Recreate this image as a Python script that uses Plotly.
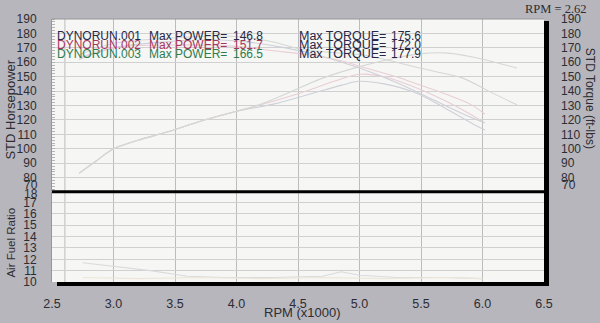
import plotly.graph_objects as go

# ---------------- data ----------------
x_ticks = [2.5, 3.0, 3.5, 4.0, 4.5, 5.0, 5.5, 6.0, 6.5]
x_tick_labels = ["2.5", "3.0", "3.5", "4.0", "4.5", "5.0", "5.5", "6.0", "6.5"]
hp_ticks = [80, 90, 100, 110, 120, 130, 140, 150, 160, 170, 180, 190]
afr_ticks = [10, 11, 12, 13, 14, 15, 16, 17]

runs = ["DYNORUN.001", "DYNORUN.002", "DYNORUN.003"]
max_power = [146.8, 151.7, 166.5]
max_torque = [175.6, 172.0, 177.9]

# run 1
p1_rpm = [2.72, 2.85, 3.0, 3.2, 3.45, 3.7, 4.0, 4.3, 4.6, 4.85, 5.0, 5.2, 5.45, 5.7, 5.95, 6.02]
p1_hp = [83, 91, 100, 106, 112, 119, 126, 131, 138, 144, 146.8, 145, 139, 128, 116, 113]
t1_rpm = [2.72, 3.0, 3.4, 3.8, 4.1, 4.4, 4.7, 5.0, 5.3, 5.6, 5.9, 6.02]
t1_tq = [162, 170, 174, 175.6, 174, 170, 164, 156, 146, 134, 122, 118]
# run 2
p2_rpm = [2.72, 2.85, 3.0, 3.2, 3.45, 3.7, 4.0, 4.3, 4.6, 4.8, 5.0, 5.2, 5.5, 5.75, 6.0]
p2_hp = [83, 91, 100, 106, 112, 119, 126, 133, 141, 147, 151.7, 150, 141, 131, 119]
t2_rpm = [2.72, 3.0, 3.5, 4.0, 4.3, 4.6, 4.85, 5.05, 5.3, 5.5, 5.7, 5.9, 6.02]
t2_tq = [163, 170, 172, 171, 168, 165, 161, 156, 150, 144, 138, 131, 124]
# run 3
p3_rpm = [2.72, 2.85, 3.0, 3.2, 3.45, 3.7, 4.0, 4.2, 4.4, 4.7, 5.0, 5.3, 5.5, 5.7, 5.9, 6.1, 6.28]
p3_hp = [83, 91, 100, 106, 112, 119, 126, 131, 138, 149, 157, 163, 166, 166.5, 164, 160, 156]
t3_rpm = [2.72, 3.0, 3.5, 4.0, 4.3, 4.5, 4.75, 5.03, 5.25, 5.49, 5.7, 5.84, 6.05, 6.28]
t3_tq = [165, 173, 177, 177.9, 174, 169.5, 167, 165, 161, 156, 152, 149, 140, 130.5]
# air fuel ratio
a1_rpm = [2.75, 3.0, 3.3, 3.6, 3.9, 4.3, 4.7, 4.85, 5.0, 5.3, 5.7, 6.0]
a1_afr = [11.7, 11.4, 11.0, 10.5, 10.4, 10.4, 10.5, 10.9, 10.6, 10.4, 10.4, 10.3]
a2_rpm = [2.75, 3.2, 3.7, 4.2, 4.7, 5.2, 5.7, 6.0]
a2_afr = [10.4, 10.3, 10.4, 10.3, 10.4, 10.3, 10.4, 10.3]

# ---------------- layout helpers ----------------
L, R, T, B = 52, 544, 18, 285          # plot area in pixels
def px(xp):
    return (xp - L) / (R - L)
def py(yp):
    return (B - yp) / (B - T)

BG = "rgb(183,182,189)"
PLOT_BG = "rgb(246,246,244)"
GRID = "rgb(208,208,208)"
VGRID = "rgb(188,188,188)"
TXT = "rgb(45,45,50)"
FONT = "Liberation Sans, Arial, sans-serif"
run_colors = ["rgb(38,40,70)", "rgb(165,55,95)", "rgb(45,125,80)"]
curve_colors = ["rgb(206,208,216)", "rgb(232,206,214)", "rgb(212,216,212)"]

fig = go.Figure()

power = [(p1_rpm, p1_hp), (p2_rpm, p2_hp), (p3_rpm, p3_hp)]
torque = [(t1_rpm, t1_tq), (t2_rpm, t2_tq), (t3_rpm, t3_tq)]
for i in range(3):
    fig.add_trace(go.Scatter(x=power[i][0], y=power[i][1], mode="lines", xaxis="x", yaxis="y",
                             line=dict(color=curve_colors[i], width=1.1), showlegend=False,
                             line_shape="spline"))
    fig.add_trace(go.Scatter(x=torque[i][0], y=torque[i][1], mode="lines", xaxis="x", yaxis="y3",
                             line=dict(color=curve_colors[i], width=1.1), showlegend=False,
                             line_shape="spline"))
fig.add_trace(go.Scatter(x=a1_rpm, y=a1_afr, mode="lines", xaxis="x", yaxis="y2",
                         line=dict(color="rgb(218,218,222)", width=1.1), showlegend=False))
fig.add_trace(go.Scatter(x=a2_rpm, y=a2_afr, mode="lines", xaxis="x", yaxis="y2",
                         line=dict(color="rgb(238,230,215)", width=1.1), showlegend=False))

upper_dom = [py(193), 1]
lower_dom = [0, py(194)]

fig.update_layout(
    width=600, height=323,
    margin=dict(l=L, r=600 - R, t=T, b=323 - B),
    paper_bgcolor=BG, plot_bgcolor=PLOT_BG,
    font=dict(family=FONT, size=12, color=TXT),
    xaxis=dict(domain=[0, 1], anchor="y2", range=[2.5, 6.5], tickvals=x_ticks, ticktext=x_tick_labels,
               showgrid=True, gridcolor=VGRID, gridwidth=1, zeroline=False, ticks="",
               ticklabelstandoff=12, tickfont=dict(size=12.5, color=TXT), showline=False),
    yaxis=dict(domain=upper_dom, anchor="x", range=[70.5, 190], tickvals=hp_ticks,
               showgrid=True, gridcolor=GRID, zeroline=False, ticks="", ticklabelstandoff=12,
               tickfont=dict(size=12, color=TXT), showline=True, linecolor="rgb(150,150,150)", linewidth=1,
               minor=dict(dtick=2, ticks="inside", ticklen=3, tickcolor="rgb(180,180,180)", showgrid=False)),
    yaxis3=dict(overlaying="y", side="right", anchor="x", range=[70.5, 190], tickvals=hp_ticks,
                showgrid=False, zeroline=False, ticks="", ticklabelstandoff=16,
                tickfont=dict(size=12, color=TXT)),
    yaxis2=dict(domain=lower_dom, anchor="x", range=[10, 17.9], tickvals=afr_ticks,
                showgrid=True, gridcolor=GRID, zeroline=False, ticks="", ticklabelstandoff=12,
                tickfont=dict(size=12, color=TXT), showline=True, linecolor="rgb(150,150,150)", linewidth=1),
)

# extra grid line near 2.6
fig.add_shape(type="line", xref="x", yref="paper", x0=2.605, x1=2.605, y0=0, y1=1,
              line=dict(color=VGRID, width=1), layer="below")

# frame: separator, right and bottom shadow borders, top line
fig.add_shape(type="line", xref="paper", yref="paper", x0=0, x1=px(547), y0=py(193.5), y1=py(193.5),
              line=dict(color="black", width=3))
fig.add_shape(type="rect", xref="paper", yref="paper", x0=px(544), x1=px(549), y0=py(289), y1=py(20),
              fillcolor="black", line=dict(width=0))
fig.add_shape(type="rect", xref="paper", yref="paper", x0=px(57), x1=px(549), y0=py(289), y1=py(285),
              fillcolor="black", line=dict(width=0))
fig.add_shape(type="line", xref="paper", yref="paper", x0=0, x1=px(544), y0=1, y1=1,
              line=dict(color="rgb(150,150,150)", width=1))

ann = []
# legend-like text rows, placed piece by piece
row_y = [35.5, 44.5, 54]
def put(text, x, y, color, size):
    ann.append(dict(text=text, x=px(x), y=py(y), xanchor="left", yanchor="middle",
                    font=dict(size=size, color=color)))
for i in range(3):
    c = run_colors[i]
    put(runs[i], 55, row_y[i], c, 12)
    put("Max POWER=", 147, row_y[i], c, 12)
    put(f"{max_power[i]:.1f}", 231, row_y[i], c, 12)
    put("Max TORQUE=", 297, row_y[i], run_colors[0], 12.5)
    put(f"{max_torque[i]:.1f}", 389, row_y[i], run_colors[0], 12)
# squeezed bottom labels
ann.append(dict(text="70", x=px(40), y=py(186.5), xanchor="right", yanchor="middle", font=dict(size=12)))
ann.append(dict(text="70", x=px(560), y=py(186.5), xanchor="left", yanchor="middle", font=dict(size=12)))
ann.append(dict(text="18", x=px(40), y=py(196), xanchor="right", yanchor="middle", font=dict(size=12)))
# titles
ann.append(dict(text="STD Horsepower", x=px(11), y=py(110), textangle=-90, xanchor="center",
                yanchor="middle", font=dict(size=13)))
ann.append(dict(text="Air Fuel Ratio", x=px(11), y=py(245), textangle=-90, xanchor="center",
                yanchor="middle", font=dict(size=11.5)))
ann.append(dict(text="STD Torque (ft-lbs)", x=px(590), y=py(98), textangle=90, xanchor="center",
                yanchor="middle", font=dict(size=12)))
ann.append(dict(text="RPM (x1000)", x=px(302), y=py(316), xanchor="center", yanchor="middle",
                font=dict(size=13)))
ann.append(dict(text="RPM = 2.62", x=px(556), y=py(8), xanchor="center", yanchor="middle",
                font=dict(family="Liberation Serif, Times New Roman, serif", size=12.5)))
for a in ann:
    a.update(xref="paper", yref="paper", showarrow=False)
fig.update_layout(annotations=ann)

fig.write_html("out.html")
